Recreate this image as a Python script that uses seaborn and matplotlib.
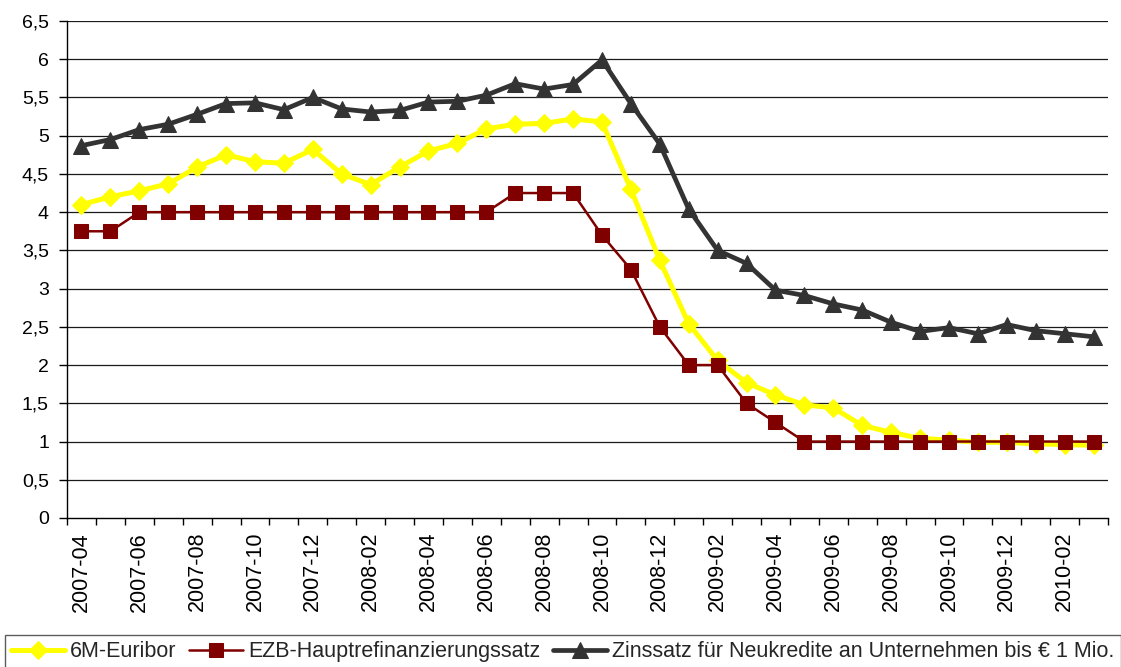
import numpy as np
import pandas as pd
import matplotlib
matplotlib.use("Agg")
import matplotlib.pyplot as plt
from matplotlib.ticker import FixedLocator, FuncFormatter
import seaborn as sns

# Monthly observations, April 2007 to March 2010
months = pd.period_range("2007-04", "2010-03", freq="M").strftime("%Y-%m").tolist()

euribor_6m = [4.10, 4.20, 4.28, 4.37, 4.59, 4.75, 4.66, 4.64, 4.82, 4.50, 4.36, 4.59,
              4.80, 4.90, 5.09, 5.15, 5.16, 5.22, 5.18, 4.30, 3.37, 2.54, 2.06, 1.77,
              1.61, 1.48, 1.44, 1.21, 1.12, 1.04, 1.02, 0.99, 0.99, 0.97, 0.96, 0.95]

ezb_rate = [3.75, 3.75, 4.00, 4.00, 4.00, 4.00, 4.00, 4.00, 4.00, 4.00, 4.00, 4.00,
            4.00, 4.00, 4.00, 4.25, 4.25, 4.25, 3.70, 3.25, 2.50, 2.00, 2.00, 1.50,
            1.25, 1.00, 1.00, 1.00, 1.00, 1.00, 1.00, 1.00, 1.00, 1.00, 1.00, 1.00]

loan_rate = [4.87, 4.95, 5.08, 5.15, 5.28, 5.42, 5.43, 5.34, 5.50, 5.35, 5.31, 5.33,
             5.44, 5.45, 5.53, 5.68, 5.61, 5.67, 5.99, 5.42, 4.89, 4.04, 3.50, 3.33,
             2.98, 2.91, 2.80, 2.72, 2.56, 2.44, 2.49, 2.41, 2.53, 2.45, 2.41, 2.37]

series_names = ["6M-Euribor", "EZB-Hauptrefinanzierungssatz",
                "Zinssatz für Neukredite an Unternehmen bis € 1 Mio."]

y_ticks = np.arange(0, 6.51, 0.5)

sns.set_theme(style="white")
plt.rcParams["font.family"] = ["Liberation Sans", "DejaVu Sans"]
plt.rcParams["font.size"] = 14

fig = plt.figure(figsize=(11.21, 6.67), dpi=100)
ax = fig.add_axes([0.0598, 0.2234, 0.9286, 0.7451])

idx = np.arange(len(months))
df = pd.DataFrame({"idx": idx, "euribor": euribor_6m, "ezb": ezb_rate, "loan": loan_rate})

# horizontal grid
for v in y_ticks[1:]:
    ax.axhline(v, color="#1a1a1a", lw=0.9, zorder=1)

sns.lineplot(data=df, x="idx", y="euribor", ax=ax, color="#FFFF00", lw=3.6,
             marker="D", markersize=9, markeredgecolor="#FFFF00", label=series_names[0],
             zorder=3)
sns.lineplot(data=df, x="idx", y="ezb", ax=ax, color="#800000", lw=1.8,
             marker="s", markersize=10.5, markeredgecolor="#800000", label=series_names[1],
             zorder=4)
sns.lineplot(data=df, x="idx", y="loan", ax=ax, color="#333333", lw=3.4,
             marker="^", markersize=11, markeredgecolor="#333333", label=series_names[2],
             zorder=5)

ax.set_xlim(-0.5, len(months) - 0.5)
ax.set_ylim(0, 6.5)
ax.set_xlabel("")
ax.set_ylabel("")

# y axis
ax.yaxis.set_major_locator(FixedLocator(y_ticks))
ax.yaxis.set_major_formatter(FuncFormatter(lambda v, p: f"{v:g}".replace(".", ",")))
ax.tick_params(axis="y", which="major", direction="out", length=6, width=1,
               color="black", labelsize=14, labelcolor="black", pad=7, left=True)

# x axis: labels at every second month, tick marks between categories
ax.xaxis.set_major_locator(FixedLocator(idx[::2]))
ax.set_xticklabels(months[::2], rotation=90)
ax.xaxis.set_minor_locator(FixedLocator(np.arange(-0.5, len(months), 1.0)))
ax.tick_params(axis="x", which="major", length=0, labelsize=15.5, labelcolor="black", pad=10)
ax.tick_params(axis="x", which="minor", direction="out", length=5, width=1,
               color="black", bottom=True)

for side in ["top", "right"]:
    ax.spines[side].set_visible(False)
for side in ["left", "bottom"]:
    ax.spines[side].set_visible(True)
    ax.spines[side].set_color("black")
    ax.spines[side].set_linewidth(1)
ax.grid(False)

ax.get_legend().remove()
handles, labels = ax.get_legend_handles_labels()
leg = fig.legend(handles, labels, loc="upper center", bbox_to_anchor=(0.502, 1 - 635 / 667),
                 ncol=3, frameon=True, fancybox=False, edgecolor="#333333", fontsize=15.5,
                 handlelength=2.5, handletextpad=0.23, columnspacing=0.6,
                 borderpad=0.3, borderaxespad=0)
leg.get_frame().set_linewidth(1)

fig.savefig("out.png", dpi=100, facecolor="white")
